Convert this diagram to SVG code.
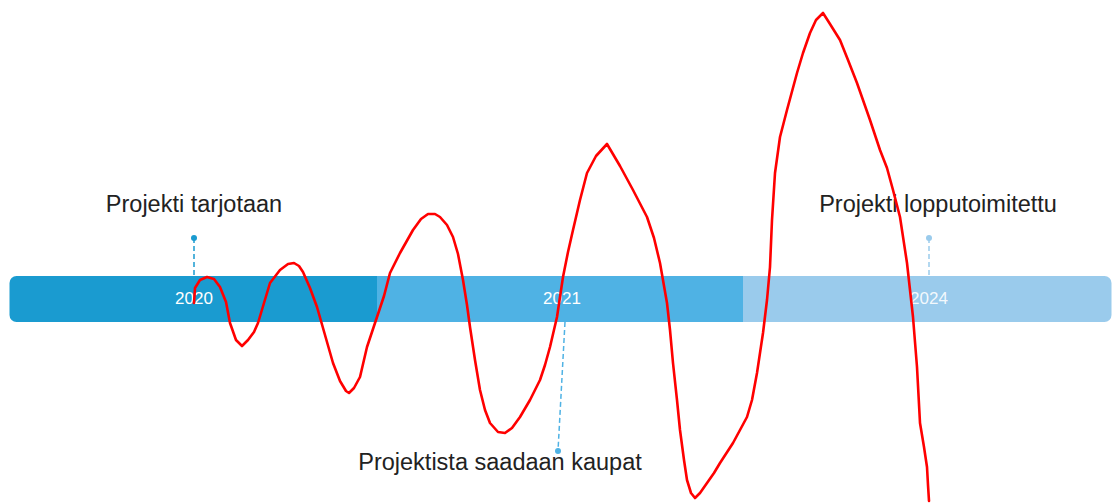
<svg xmlns="http://www.w3.org/2000/svg" width="1112" height="503" viewBox="0 0 1112 503">
<style>
.lbl{font-family:"Liberation Sans",Arial,sans-serif;font-size:23.5px;fill:#222;text-anchor:middle}
.yr{font-family:"Liberation Sans",Arial,sans-serif;font-size:17px;fill:#fff;text-anchor:middle}
.dash{stroke-width:1.5;stroke-dasharray:5 3;fill:none}
</style>
<defs>
<clipPath id="barclip"><rect x="9.5" y="276" width="1102" height="46" rx="7"/></clipPath>
</defs>
<g id="bar" clip-path="url(#barclip)">
<rect x="9" y="276" width="368" height="46" fill="#1a9bd0"/>
<rect x="377" y="276" width="366" height="46" fill="#4fb2e4"/>
<rect x="743" y="276" width="370" height="46" fill="#9acbec"/>
</g>
<g id="y2020"><text class="yr" x="194" y="304">2020</text></g>
<g id="y2021"><text class="yr" x="562" y="304">2021</text></g>
<g id="y2024"><text class="yr" x="929" y="304" fill-opacity="0.9">2024</text></g>
<g id="connectors">
<line class="dash" x1="194" y1="238" x2="194" y2="276" stroke="#1a9bd0"/>
<line class="dash" x1="565" y1="322" x2="558" y2="451" stroke="#4fb2e4"/>
<line class="dash" x1="929" y1="238" x2="929" y2="276" stroke="#9acbec"/>
<circle cx="194" cy="238" r="3" fill="#1a9bd0"/>
<circle cx="558" cy="451" r="3" fill="#4fb2e4"/>
<circle cx="929" cy="238" r="3" fill="#9acbec"/>
</g>
<g id="m1"><text class="lbl" x="194" y="212">Projekti tarjotaan</text></g>
<g id="m2"><text class="lbl" x="500" y="470">Projektista saadaan kaupat</text></g>
<g id="m3"><text class="lbl" x="938" y="212">Projekti lopputoimitettu</text></g>
<g id="scribble">
<polyline fill="none" stroke="#ff0000" stroke-width="2.6" stroke-linejoin="round" stroke-linecap="round" points="194,303 195,288 200,280 207,277 214,279 220,287 226,302 230,323 236,340 242,346 248,340 254,332 258,323 264,303 270,283 280,270 288,264 294,263 299,266 303,272 310,288 317,307 325,335 333,363 340,381 346,391 349,393 354,388 360,377 367,347 377,317 384,296 390,273 400,253 413,230 421,219 428,214 435,214 440,217 447,225 453,237 458,254 463,280 467,305 470,327 475,360 480,390 485,410 490,423 498,432 505,433 512,428 520,417 530,400 540,380 545,365 550,347 557,317 563,277 568,252 573,230 580,200 587,173 596,156 607,144 620,166 633,190 647,217 654,238 660,263 667,303 670,330 673,363 677,400 680,430 684,460 687,480 691,493 695,498 700,493 707,483 714,473 720,463 733,443 740,430 747,417 752,400 757,373 763,333 767,300 770,267 772,220 775,173 780,137 787,110 797,73 803,53 810,33 816,20 823,13 830,24 840,40 848,60 857,83 870,120 880,150 887,168 893,190 900,217 907,263 913,317 917,367 920,423 924,447 927,467 928,485 929,501"/>
</g>
</svg>
